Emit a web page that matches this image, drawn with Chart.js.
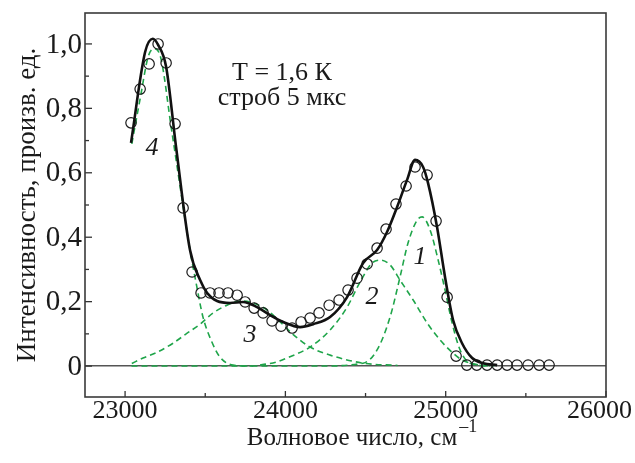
<!DOCTYPE html>
<html lang="ru">
<head>
<meta charset="utf-8">
<title>Спектр</title>
<script src="https://cdn.jsdelivr.net/npm/chart.js@4/dist/chart.umd.min.js"></script>
<style>
  html, body { margin: 0; padding: 0; background: #fff; }
  #wrap { width: 635px; height: 463px; }
</style>
</head>
<body>
<div id="wrap"><canvas id="spectrumChart" width="635" height="463"></canvas></div>
<script>
// ===== 1. DATA =====
// measured points (open circles)
const pointWaves = [
  23037, 23094, 23150, 23206, 23256, 23312, 23362, 23418, 23474, 23530,
  23586, 23642, 23699, 23749, 23805, 23861, 23917, 23973, 24042, 24098,
  24154, 24210, 24273, 24335, 24391, 24447, 24510, 24572, 24628, 24690,
  24753, 24809, 24884, 24940, 25009, 25065, 25132, 25194, 25258, 25321,
  25383, 25445, 25514, 25583, 25645
];
const pointValues = [
  0.755, 0.860, 0.938, 1.000, 0.941, 0.752, 0.491, 0.292, 0.227, 0.227,
  0.227, 0.227, 0.220, 0.199, 0.180, 0.165, 0.140, 0.124, 0.118, 0.137,
  0.149, 0.165, 0.189, 0.205, 0.236, 0.273, 0.317, 0.366, 0.425, 0.503,
  0.559, 0.618, 0.593, 0.450, 0.214, 0.031, 0.003, 0.003, 0.003, 0.003,
  0.003, 0.003, 0.003, 0.003, 0.003
];

// fit (solid black line)
const fitWaves = [
  23037, 23125, 23173, 23206, 23256, 23318, 23405, 23468, 23512, 23574,
  23655, 23736, 23823, 23905, 23986, 24092, 24173, 24279, 24385, 24485,
  24572, 24634, 24697, 24759, 24809, 24859, 24890, 24946, 24996, 25046,
  25102, 25165, 25233, 25321
];
const fitValues = [
  0.693, 0.975, 1.016, 0.997, 0.929, 0.680, 0.360, 0.267, 0.227, 0.202,
  0.196, 0.199, 0.183, 0.158, 0.137, 0.121, 0.130, 0.152, 0.214, 0.320,
  0.360, 0.416, 0.494, 0.578, 0.640, 0.618, 0.568, 0.432, 0.276, 0.143,
  0.071, 0.025, 0.009, 0.003
];

// component 1
const band1Waves = [23040, 24200, 24485, 24572, 24653, 24715, 24765, 24822, 24853, 24903, 24953, 24996, 25040, 25090, 25152, 25277];
const band1Values = [0, 0, 0.009, 0.050, 0.152, 0.276, 0.382, 0.453, 0.463, 0.422, 0.329, 0.236, 0.134, 0.050, 0.009, 0];

// component 2
const band2Waves = [23842, 23946, 24029, 24154, 24279, 24385, 24466, 24541, 24591, 24653, 24715, 24797, 24884, 24965, 25046, 25102, 25214, 25300];
const band2Values = [0.003, 0.013, 0.029, 0.059, 0.112, 0.183, 0.261, 0.320, 0.329, 0.314, 0.267, 0.205, 0.134, 0.081, 0.040, 0.019, 0.003, 0];

// component 3
const band3Waves = [23042, 23112, 23200, 23299, 23387, 23468, 23549, 23636, 23717, 23798, 23886, 23967, 24060, 24154, 24279, 24485, 24700];
const band3Values = [0.008, 0.025, 0.043, 0.071, 0.102, 0.130, 0.165, 0.189, 0.202, 0.196, 0.174, 0.137, 0.093, 0.059, 0.034, 0.009, 0.002];

// component 4
const band4Waves = [23042, 23094, 23144, 23180, 23218, 23291, 23405, 23443, 23486, 23536, 23592, 23674, 23800];
const band4Values = [0.690, 0.830, 0.960, 0.985, 0.965, 0.730, 0.360, 0.258, 0.152, 0.081, 0.028, 0.003, 0];

// axis ticks (all tick positions, then the labelled ones)
const xAllTicks = [23000, 23500, 24000, 24500, 25000, 25500, 26000];
const xMajorTicks = [23000, 24000, 25000, 26000];
const xTickLabels = ['23000', '24000', '25000', '26000'];
const yAllTicks = [0, 0.1, 0.2, 0.3, 0.4, 0.5, 0.6, 0.7, 0.8, 0.9, 1.0];
const yMajorTicks = [0, 0.2, 0.4, 0.6, 0.8, 1.0];
const yTickLabels = ['0', '0,2', '0,4', '0,6', '0,8', '1,0'];

// ===== 2. HELPERS =====
const FONT = "'Liberation Serif', 'Times New Roman', serif";
const GREEN = '#1fa54a';
const INK = '#1a1a1a';

// turn two arrays into [{x, y}, ...]
function toPoints(xs, ys) {
  return xs.map(function(x, i) {
    return { x: x, y: ys[i] };
  });
}

// find a label for a tick value, '' for the minor ones
function labelFor(value, majors, labels) {
  for (let i = 0; i < majors.length; i++) {
    if (Math.abs(majors[i] - value) < 1e-6) return labels[i];
  }
  return '';
}

function greenBand(xs, ys) {
  return {
    data: toPoints(xs, ys),
    showLine: true,
    borderColor: GREEN,
    borderWidth: 1.6,
    borderDash: [6, 4],
    pointRadius: 0,
    cubicInterpolationMode: 'monotone',
    order: 3
  };
}

// ===== 3. PLUGIN: FRAME, INWARD TICKS, TEXT =====
const decorPlugin = {
  id: 'decor',
  afterDraw: function(chart) {
    const ctx = chart.ctx;
    const area = chart.chartArea;
    const xs = chart.scales.x;
    const ys = chart.scales.y;

    ctx.save();

    // inward tick marks
    ctx.strokeStyle = '#333';
    ctx.lineWidth = 1.3;
    xs.ticks.forEach(function(t) {
      const px = xs.getPixelForValue(t.value);
      const len = labelFor(t.value, xMajorTicks, xTickLabels) ? 6 : 4;
      ctx.beginPath();
      ctx.moveTo(px, area.bottom);
      ctx.lineTo(px, area.bottom - len);
      ctx.stroke();
    });
    ys.ticks.forEach(function(t) {
      const py = ys.getPixelForValue(t.value);
      const len = labelFor(t.value, yMajorTicks, yTickLabels) ? 7 : 4;
      ctx.beginPath();
      ctx.moveTo(area.left, py);
      ctx.lineTo(area.left + len, py);
      ctx.stroke();
    });

    // frame
    ctx.strokeStyle = '#3a3a3a';
    ctx.lineWidth = 1.6;
    ctx.strokeRect(area.left, area.top, area.right - area.left, area.bottom - area.top);

    ctx.fillStyle = INK;

    // x tick labels (last one kept inside the canvas)
    ctx.font = '26px ' + FONT;
    ctx.textAlign = 'center';
    ctx.textBaseline = 'alphabetic';
    xMajorTicks.forEach(function(v, i) {
      const text = xTickLabels[i];
      const half = ctx.measureText(text).width / 2;
      let px = xs.getPixelForValue(v);
      if (px + half > chart.width - 3) px = chart.width - 3 - half;
      ctx.fillText(text, px, 418);
    });

    // y tick labels
    ctx.font = '29px ' + FONT;
    ctx.textAlign = 'right';
    ctx.textBaseline = 'middle';
    yMajorTicks.forEach(function(v, i) {
      ctx.fillText(yTickLabels[i], 82, ys.getPixelForValue(v) + 1);
    });

    // annotation
    ctx.font = '26px ' + FONT;
    ctx.textAlign = 'center';
    ctx.textBaseline = 'alphabetic';
    ctx.fillText('T = 1,6 К', 282, 80);
    ctx.fillText('строб 5 мкс', 282, 105);

    // component numbers
    ctx.font = 'italic 26px ' + FONT;
    ctx.textBaseline = 'middle';
    ctx.fillText('1', 420, 257);
    ctx.fillText('2', 372, 297);
    ctx.fillText('3', 250, 335);
    ctx.fillText('4', 152, 148);

    // x axis title with superscript
    ctx.font = '25px ' + FONT;
    ctx.textAlign = 'left';
    ctx.textBaseline = 'alphabetic';
    const mainText = 'Волновое число, см';
    const w = ctx.measureText(mainText).width;
    const left = 352 - w / 2;
    ctx.fillText(mainText, left, 445);
    ctx.font = '18px ' + FONT;
    ctx.fillText('–1', left + w + 2, 432);

    // y axis title
    ctx.translate(28, (area.top + area.bottom) / 2);
    ctx.rotate(-Math.PI / 2);
    ctx.font = '27px ' + FONT;
    ctx.textAlign = 'center';
    ctx.textBaseline = 'middle';
    ctx.fillText('Интенсивность, произв. ед.', 0, 0);

    ctx.restore();
  }
};

// ===== 4. DRAW THE CHART =====
const ctx = document.getElementById('spectrumChart').getContext('2d');

new Chart(ctx, {
  type: 'scatter',
  data: {
    datasets: [
      {
        data: toPoints(pointWaves, pointValues),
        pointRadius: 5.2,
        pointBorderWidth: 1.2,
        pointBackgroundColor: 'rgba(0,0,0,0)',
        pointBorderColor: INK,
        showLine: false,
        order: 2
      },
      {
        data: toPoints(fitWaves, fitValues),
        showLine: true,
        borderColor: '#111',
        borderWidth: 2.6,
        pointRadius: 0,
        cubicInterpolationMode: 'monotone',
        order: 1
      },
      greenBand(band1Waves, band1Values),
      greenBand(band2Waves, band2Values),
      greenBand(band3Waves, band3Values),
      greenBand(band4Waves, band4Values)
    ]
  },
  options: {
    responsive: false,
    animation: false,
    layout: { padding: { left: 0, top: 13, right: 29, bottom: 0 } },
    plugins: {
      legend: { display: false },
      tooltip: { enabled: false }
    },
    scales: {
      x: {
        type: 'linear',
        min: 22750,
        max: 26000,
        grid: { display: false, drawTicks: false },
        border: { display: false },
        afterBuildTicks: function(scale) {
          scale.ticks = xAllTicks.map(function(v) { return { value: v }; });
        },
        ticks: { display: false },
        afterFit: function(scale) {
          scale.height = 66;
          scale.paddingLeft = 0;
          scale.paddingRight = 0;
        }
      },
      y: {
        type: 'linear',
        min: -0.096,
        max: 1.096,
        grid: {
          drawTicks: false,
          lineWidth: 1.5,
          color: function(c) {
            // only the zero line is visible
            return Math.abs(c.tick.value) < 1e-6 ? '#555' : 'rgba(0,0,0,0)';
          }
        },
        border: { display: false },
        afterBuildTicks: function(scale) {
          scale.ticks = yAllTicks.map(function(v) { return { value: v }; });
        },
        ticks: { display: false },
        afterFit: function(scale) {
          scale.width = 85;
          scale.paddingTop = 0;
          scale.paddingBottom = 0;
        }
      }
    }
  },
  plugins: [decorPlugin]
});
</script>
</body>
</html>
